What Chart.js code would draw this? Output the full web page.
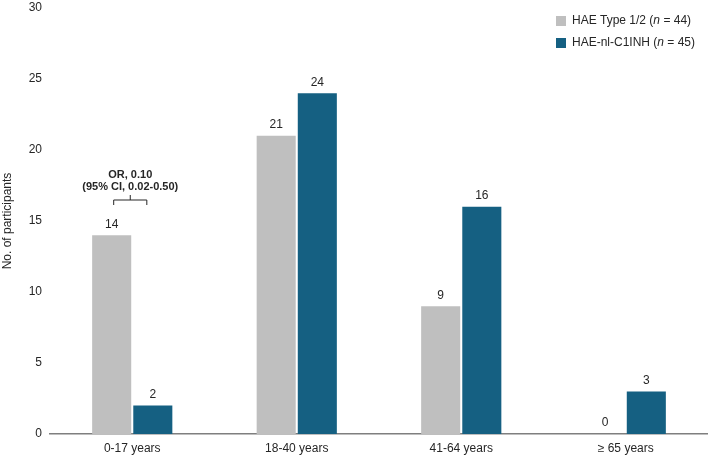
<!DOCTYPE html>
<html><head><meta charset="utf-8">
<script src="https://cdn.jsdelivr.net/npm/chart.js@4/dist/chart.umd.min.js"></script>
<style>html,body{margin:0;padding:0;background:#fff}#wrap{width:708px;height:457px}</style>
</head><body><div id="wrap"><canvas id="c" width="708" height="457"></canvas></div>
<script>
const categories = ["0-17 years", "18-40 years", "41-64 years", "\u2265 65 years"];
const type12Values = [14, 21, 9, 0];
const nlC1inhValues = [2, 24, 16, 3];
const yTicks = [0, 5, 10, 15, 20, 25, 30];
const seriesNames = ["HAE Type 1/2", "HAE-nl-C1INH"];
const seriesN = [44, 45];
const annotationLines = ["OR, 0.10", "(95% CI, 0.02-0.50)"];
const FONT = "'Liberation Sans', Arial, sans-serif";

const valueLabels = {
  id: 'valueLabels',
  afterDatasetsDraw(chart) {
    const ctx = chart.ctx;
    ctx.save();
    ctx.font = "12px " + FONT;
    ctx.fillStyle = "#262626";
    ctx.textAlign = "center";
    ctx.textBaseline = "bottom";
    chart.data.datasets.forEach((ds, di) => {
      chart.getDatasetMeta(di).data.forEach((bar, i) => {
        ctx.fillText(String(ds.data[i]), bar.x, bar.y - 5);
      });
    });
    ctx.restore();
  }
};

const extras = {
  id: 'extras',
  afterDraw(chart) {
    const ctx = chart.ctx;
    ctx.save();
    ctx.font = "12px " + FONT;
    ctx.textBaseline = "middle";
    chart.data.datasets.forEach((ds, i) => {
      const y = 21 + i * 22;
      ctx.fillStyle = ds.backgroundColor;
      ctx.fillRect(556, y - 5, 10, 10);
      ctx.fillStyle = "#262626";
      let x = 572;
      const parts = [[seriesNames[i] + " (", false], ["n", true], [" = " + seriesN[i] + ")", false]];
      parts.forEach(([t, it]) => {
        ctx.font = (it ? "italic " : "") + "12px " + FONT;
        ctx.textAlign = "left";
        ctx.fillText(t, x, y);
        x += ctx.measureText(t).width;
      });
    });
    const m0 = chart.getDatasetMeta(0).data[0];
    const m1 = chart.getDatasetMeta(1).data[0];
    const x1 = m0.x + 2, x2 = m1.x - 6;
    const xm = (x1 + x2) / 2;
    const yb = 205, yt = 200;
    ctx.strokeStyle = "#262626";
    ctx.lineWidth = 1;
    ctx.beginPath();
    ctx.moveTo(x1, yb); ctx.lineTo(x1, yt); ctx.lineTo(x2, yt); ctx.lineTo(x2, yb);
    ctx.moveTo(xm, yt); ctx.lineTo(xm, yt - 5);
    ctx.stroke();
    ctx.font = "bold 11px " + FONT;
    ctx.fillStyle = "#262626";
    ctx.textAlign = "center";
    ctx.textBaseline = "middle";
    ctx.fillText(annotationLines[0], xm, 175);
    ctx.fillText(annotationLines[1], xm, 187);
    ctx.restore();
  }
};

new Chart(document.getElementById('c'), {
  type: 'bar',
  data: {
    labels: categories,
    datasets: [
      { label: seriesNames[0], data: type12Values, backgroundColor: "#BFBFBF", barPercentage: 0.95, categoryPercentage: 0.5 },
      { label: seriesNames[1], data: nlC1inhValues, backgroundColor: "#156082", barPercentage: 0.95, categoryPercentage: 0.5 }
    ]
  },
  options: {
    responsive: false,
    animation: false,
    devicePixelRatio: 1,
    layout: { padding: { top: 8, right: 0, bottom: 0, left: 0 } },
    plugins: { legend: { display: false }, tooltip: { enabled: false } },
    scales: {
      x: {
        afterFit(scale) { scale.height = 23; scale.paddingLeft = 0; scale.paddingRight = 0; },
        grid: { display: false, drawTicks: false },
        border: { display: true, color: "#7F7F7F", width: 1.5 },
        ticks: { color: "#262626", font: { size: 12, family: FONT }, padding: 7 }
      },
      y: {
        min: 0, max: 30,
        afterBuildTicks(scale) { scale.ticks = yTicks.map(v => ({ value: v })); },
        afterFit(scale) { scale.width = 50; scale.paddingTop = 0; scale.paddingBottom = 0; },
        grid: { display: false, drawTicks: false },
        border: { display: false },
        ticks: { color: "#262626", font: { size: 12, family: FONT }, padding: 8 },
        title: { display: true, text: "No. of participants", color: "#262626", font: { size: 12, family: FONT }, padding: 0 }
      }
    }
  },
  plugins: [valueLabels, extras]
});
</script>
</body></html>
